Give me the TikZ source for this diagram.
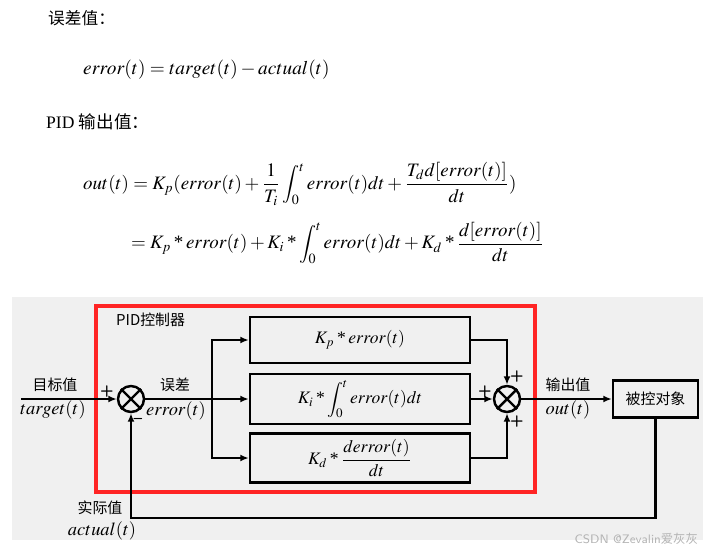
\documentclass[tikz,border=0pt]{standalone}
\usepackage{mathptmx}
\usepackage{fontspec}
\setmainfont{Liberation Serif}
\newfontfamily\cjk{Noto Sans CJK SC}
\usetikzlibrary{arrows.meta}
\definecolor{pidGris}{HTML}{F0F0F0}
\definecolor{pidRojo}{HTML}{FF2424}
\definecolor{pidMarca}{HTML}{B4B4B4}
\newcommand{\pidmul}{\mathbin{\textup{*}}}

\begin{document}
\begin{tikzpicture}[x=0.02cm, y=-0.02cm,
      blk/.style={draw, line width=1.4pt, fill=pidGris, minimum width=4.4cm,
                  minimum height=0.93cm, font=\fontsize{10}{12}\selectfont},
      sum/.style={circle, draw, line width=1.4pt, minimum size=0.52cm, inner sep=0pt},
      arr/.style={-{Latex[length=1.7mm,width=1.4mm]}, line width=1.3pt},
      lbl/.style={font=\cjk\fontsize{8.5}{10}\selectfont},
      sig/.style={font=\fontsize{10.5}{12}\selectfont, inner sep=1pt},
      pm/.style={font=\sffamily\bfseries\small, inner sep=0pt},
      every node/.style={align=center}]
    \useasboundingbox (0,0) rectangle (716,551);
    % Formulas
    \node[anchor=west, font=\cjk\fontsize{9.5}{11}\selectfont] (t1) at (42,18) {误差值：};
    \node[anchor=west, font=\fontsize{11}{13}\selectfont] (f1) at (77,70)
      {$error(t)=target(t)-actual(t)$};
    \node[anchor=west] (t2) at (40,122) {PID {\cjk 输出值：}};
    \node[anchor=west, font=\fontsize{10.8}{13}\selectfont] (f2) at (77,184)
      {$\displaystyle out(t)=K_p(error(t)+\frac{1}{T_i}\int_0^t error(t)dt+\frac{T_d d[error(t)]}{dt})$};
    \node[anchor=west, font=\fontsize{10.8}{13}\selectfont] (f3) at (125,243)
      {$\displaystyle =K_p\pidmul error(t)+K_i\pidmul\int_0^t error(t)dt+K_d\pidmul\frac{d[error(t)]}{dt}$};
    % Diagrama
    \fill[pidGris] (12,297) rectangle (703,540);
    \draw[pidRojo, line width=1.9pt] (96,306) rectangle (535,492);
    \node[lbl, anchor=west] (pid) at (110,320) {PID控制器};
    \node[sum] (s1) at (131,399) {};
    \node[blk] (bP) at (360,340) {$K_p\pidmul error(t)$};
    \node[blk] (bI) at (360,399) {$K_i\pidmul\displaystyle\int_0^t error(t)dt$};
    \node[blk] (bD) at (360,458) {$\displaystyle K_d\pidmul\frac{derror(t)}{dt}$};
    \node[sum] (s2) at (507,399) {};
    \node[draw, line width=1.4pt, minimum width=1.7cm, minimum height=0.74cm, lbl] (plant)
      at (655.5,399) {被控对象};
    \coordinate (in) at (21,399);
    \coordinate (br) at (212,399);
    \coordinate (fb) at (400,518);
    \foreach \s in {s1,s2}
      \draw[line width=1.4pt] (\s.north east) -- (\s.south west) (\s.north west) -- (\s.south east);
    \draw[arr] (in) -- (s1);
    \draw[arr] (s1) -- (bI);
    \draw[arr] (br) |- (bP);
    \draw[arr] (br) |- (bD);
    \draw[arr] (bP) -| (s2);
    \draw[arr] (bI) -- (s2);
    \draw[arr] (bD) -| (s2);
    \draw[arr] (s2) -- (plant);
    \draw[arr] (plant) |- (fb) -| (s1);
    % Senales
    \node[lbl] (tgtz) at (55,385) {目标值};
    \node[sig] (tgt) at (53,410) {$target(t)$};
    \node[lbl] (errz) at (175,385) {误差};
    \node[sig] (err) at (176,411) {$error(t)$};
    \node[lbl] (outz) at (568,385) {输出值};
    \node[sig] (out) at (568,410) {$out(t)$};
    \node[lbl] (actz) at (100,508) {实际值};
    \node[sig] (act) at (102,531) {$actual(t)$};
    \node[pm] (p1) at (107,392) {+};
    \node[pm] (m1) at (138,421) {--};
    \node[pm] (p2) at (517,377) {+};
    \node[pm] (p3) at (485,392) {+};
    \node[pm] (p4) at (517,422) {+};
    \node[font=\sffamily\scriptsize, text=pidMarca, anchor=east] (wm) at (704,539)
      {CSDN @Zevalin{\cjk 爱灰灰}};
  \end{tikzpicture}
\end{document}
